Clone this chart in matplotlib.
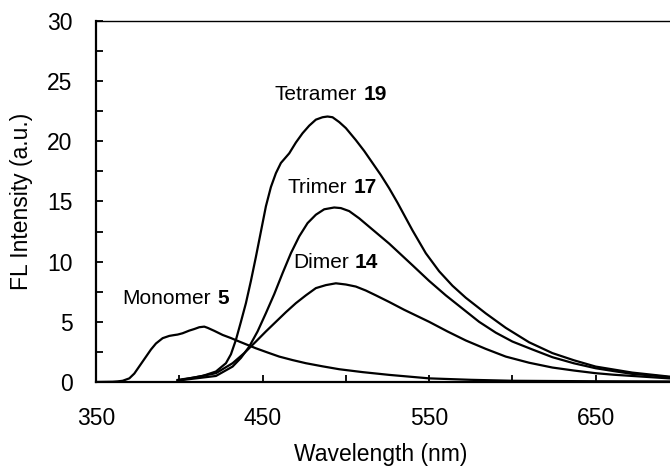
import matplotlib
matplotlib.use("Agg")
import matplotlib.pyplot as plt
from matplotlib.ticker import MultipleLocator

plt.rcParams["font.family"] = ["Liberation Sans", "DejaVu Sans"]

# Values
mono_x = [350, 360, 363, 366, 370, 373, 376, 379, 383, 386, 390, 394, 397, 399, 402, 406,
          409, 412, 415, 417, 421, 426, 431, 436, 441, 446, 453, 460, 468, 476, 486, 496,
          510, 526, 550, 575, 600, 650, 700]
mono_y = [0.0, 0.02, 0.05, 0.1, 0.3, 0.7, 1.3, 1.9, 2.7, 3.2, 3.64, 3.83, 3.9, 3.94, 4.05, 4.27,
          4.4, 4.55, 4.6, 4.5, 4.25, 3.91, 3.65, 3.36, 3.08, 2.8, 2.45, 2.11, 1.82, 1.56, 1.3, 1.06,
          0.82, 0.59, 0.3, 0.18, 0.1, 0.06, 0.04]

tetra_x = [399, 408, 414, 422, 428, 431, 434, 437, 440, 443, 446, 449, 452, 455, 458, 461,
           466, 470, 474, 478, 482, 486, 489, 492, 496, 500, 506, 511, 516, 521, 526, 531,
           540, 548, 556, 564, 572, 584, 596, 610, 624, 637, 650, 672, 694, 700]
tetra_y = [0.17, 0.35, 0.5, 0.87, 1.56, 2.3, 3.5, 5.0, 6.55, 8.4, 10.4, 12.5, 14.6, 16.2, 17.35, 18.2,
           19.0, 19.9, 20.67, 21.3, 21.8, 22.0, 22.06, 22.0, 21.6, 21.1, 20.1, 19.2, 18.2, 17.2, 16.1, 14.9,
           12.6, 10.7, 9.2, 8.0, 7.0, 5.7, 4.5, 3.3, 2.4, 1.8, 1.28, 0.78, 0.45, 0.4]

tri_x = [399, 410, 422, 432, 437, 442, 447, 452, 457, 462, 467, 472, 477, 482, 487, 493,
         497, 502, 508, 514, 520, 526, 533, 540, 550, 560, 570, 580, 590, 600, 612, 624,
         637, 650, 661, 672, 683, 694, 700]
tri_y = [0.12, 0.3, 0.5, 1.28, 2.0, 2.94, 4.2, 5.72, 7.3, 9.04, 10.7, 12.1, 13.2, 13.9, 14.35, 14.5,
         14.45, 14.2, 13.6, 12.9, 12.2, 11.5, 10.6, 9.7, 8.4, 7.2, 6.1, 5.0, 4.1, 3.36, 2.7, 2.06,
         1.55, 1.14, 0.9, 0.67, 0.55, 0.4, 0.36]

di_x = [399, 410, 422, 432, 439, 446, 452, 458, 464, 470, 476, 482, 488, 494, 500, 506,
        512, 518, 526, 535, 550, 561, 572, 584, 596, 610, 624, 637, 650, 661, 672, 683,
        694, 700]
di_y = [0.12, 0.4, 0.73, 1.56, 2.4, 3.36, 4.2, 5.0, 5.8, 6.55, 7.2, 7.8, 8.05, 8.2, 8.1, 7.93,
        7.6, 7.2, 6.65, 6.0, 5.0, 4.2, 3.45, 2.75, 2.11, 1.6, 1.2, 0.95, 0.73, 0.6, 0.5, 0.4,
        0.3, 0.27]

labels = [("Monomer", "5", 366, 6.9),
          ("Tetramer", "19", 457.4, 23.9),
          ("Trimer", "17", 465.2, 16.2),
          ("Dimer", "14", 468.2, 9.9)]

fig = plt.figure(figsize=(6.7, 4.66), dpi=100)
ax = fig.add_axes([0.1433, 0.1803, 0.8701, 0.7747])

for xs, ys in [(mono_x, mono_y), (tetra_x, tetra_y), (tri_x, tri_y), (di_x, di_y)]:
    ax.plot(xs, ys, color="black", lw=1.6, solid_joinstyle="round")

for name, num, lx, ly in labels:
    t = ax.text(lx, ly, name, fontsize=15, va="center", ha="left")
    ax.annotate(num, xy=(1, 0.5), xycoords=t, xytext=(4.5, 0), textcoords="offset points",
                fontsize=15, fontweight="bold", va="center", ha="left")

ax.set_xlim(350, 700)
ax.set_ylim(0, 30)
ax.xaxis.set_major_locator(MultipleLocator(100, offset=50))
ax.xaxis.set_minor_locator(MultipleLocator(100))
ax.yaxis.set_major_locator(MultipleLocator(5))
ax.yaxis.set_minor_locator(MultipleLocator(2.5))
ax.tick_params(which="both", direction="in", length=5, width=1.3, labelsize=16.5, pad=17)
ax.tick_params(axis="x", pad=18)

for side in ["left", "bottom"]:
    ax.spines[side].set_linewidth(1.6)
ax.spines["top"].set_linewidth(1.0)
ax.spines["right"].set_linewidth(1.0)

ax.set_xlabel("Wavelength (nm)", fontsize=16.5, va="center")
ax.set_ylabel("FL Intensity (a.u.)", fontsize=16.5, va="center")
ax.xaxis.set_label_coords(0.489, -0.202)
ax.yaxis.set_label_coords(-0.127, 0.5)

fig.savefig("out.png", dpi=100)
